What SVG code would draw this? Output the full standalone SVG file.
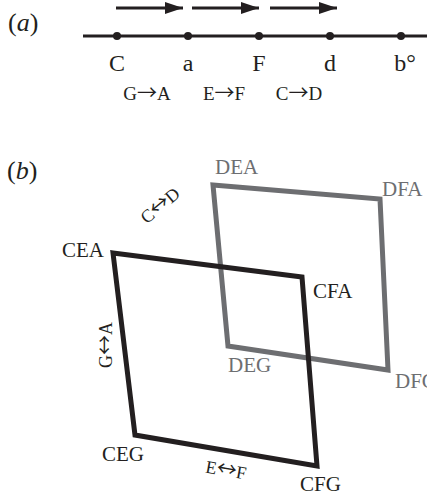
<svg xmlns="http://www.w3.org/2000/svg" width="427" height="499" viewBox="0 0 427 499">
<style>
text{font-family:"Liberation Serif","Times New Roman",serif;fill:#231f20}
.big{font-size:24px;text-anchor:middle}
.sm{font-size:19px;text-anchor:middle}
.lab{font-size:21px}
.gr{fill:#6d6e71}
.el{font-size:18px;text-anchor:middle}
.ar{font-family:"Noto Sans CJK JP","DejaVu Serif",sans-serif;font-size:20px}
.pl{font-size:26px}
.blk{fill:none;stroke:#231f20;stroke-width:5;stroke-linejoin:miter}
.gry{fill:none;stroke:#6d6e71;stroke-width:5;stroke-linejoin:miter}
.ax{stroke:#231f20;stroke-width:3}
</style>
<defs>
<marker id="ah" markerWidth="6" markerHeight="4" refX="6" refY="2" orient="auto" markerUnits="strokeWidth">
<path d="M0,0 L6,2 L0,4 Z" fill="#231f20"/>
</marker>
</defs>
<g id="panel-a-label"><text class="pl" x="8" y="31">(<tspan font-style="italic">a</tspan>)</text></g>
<g id="panel-b-label"><text class="pl" x="7" y="179">(<tspan font-style="italic">b</tspan>)</text></g>
<g id="connectors">
<line class="ax" x1="83" y1="36" x2="427" y2="36"/>
<line class="ax" x1="116" y1="8" x2="183" y2="8" marker-end="url(#ah)"/>
<line class="ax" x1="192" y1="8" x2="259" y2="8" marker-end="url(#ah)"/>
<line class="ax" x1="270" y1="8" x2="337" y2="8" marker-end="url(#ah)"/>
<polygon class="gry" points="213,185 380,199 388,370 228,346"/>
<polygon class="blk" points="113,253 302,277 317,466 135,435"/>
</g>
<g id="node-C"><circle cx="117" cy="36" r="4" fill="#231f20"/><text class="big" x="117" y="71">C</text></g>
<g id="node-a"><circle cx="188" cy="36" r="4" fill="#231f20"/><text class="big" x="188" y="71">a</text></g>
<g id="node-F"><circle cx="259" cy="36" r="4" fill="#231f20"/><text class="big" x="259" y="71">F</text></g>
<g id="node-d"><circle cx="330" cy="36" r="4" fill="#231f20"/><text class="big" x="330" y="71">d</text></g>
<g id="node-b"><circle cx="401" cy="36" r="4" fill="#231f20"/><text class="big" x="405" y="71">b°</text></g>
<g id="arrow-labels">
<text class="sm" x="147" y="100">G<tspan class="ar">→</tspan>A</text>
<text class="sm" x="224" y="100">E<tspan class="ar">→</tspan>F</text>
<text class="sm" x="299" y="100">C<tspan class="ar">→</tspan>D</text>
</g>
<g id="node-CEA"><text class="lab" x="62" y="257">CEA</text></g>
<g id="node-CFA"><text class="lab" x="313" y="298">CFA</text></g>
<g id="node-CEG"><text class="lab" x="102" y="461">CEG</text></g>
<g id="node-CFG"><text class="lab" x="300" y="491">CFG</text></g>
<g id="node-DEA"><text class="lab gr" x="215" y="174">DEA</text></g>
<g id="node-DFA"><text class="lab gr" x="382" y="196">DFA</text></g>
<g id="node-DEG"><text class="lab gr" x="228" y="372">DEG</text></g>
<g id="node-DFG"><text class="lab gr" x="395" y="388">DFG</text></g>
<g id="edge-labels">
<text class="el" transform="translate(164,210) rotate(-40)">C<tspan class="ar">↔</tspan>D</text>
<text class="el" transform="translate(112,345) rotate(-90)">G<tspan class="ar">↔</tspan>A</text>
<text class="el" transform="translate(225,476) rotate(10)">E<tspan class="ar">↔</tspan>F</text>
</g>
</svg>
